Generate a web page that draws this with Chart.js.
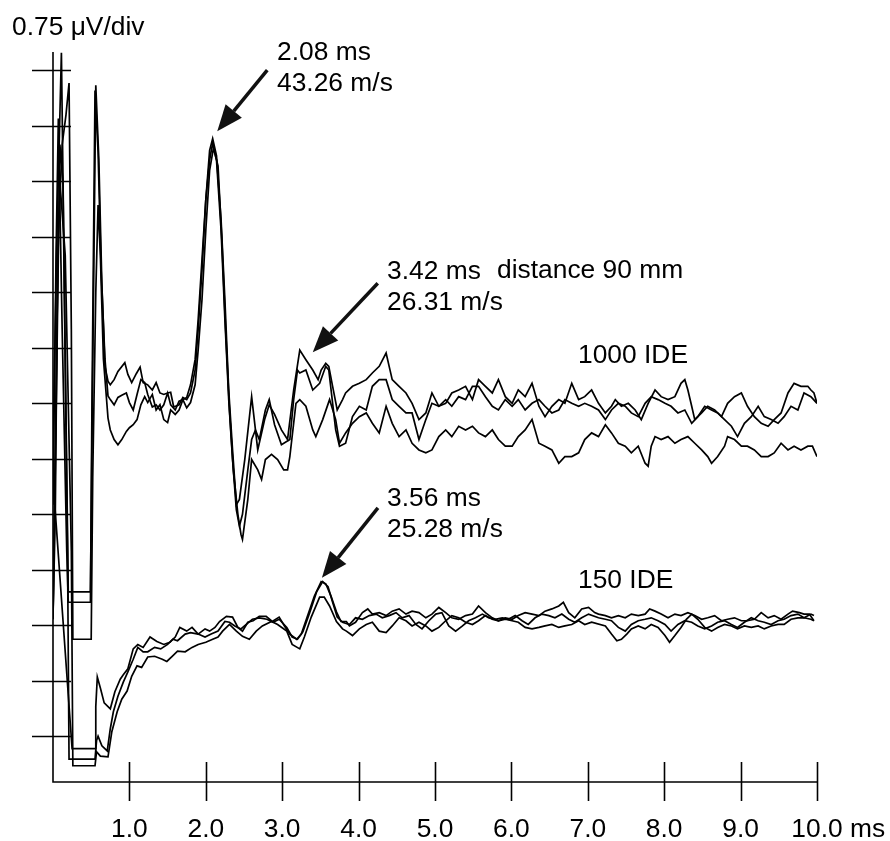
<!DOCTYPE html>
<html>
<head>
<meta charset="utf-8">
<title>Compound action potentials</title>
<script src="https://cdn.jsdelivr.net/npm/chart.js@4.4.1/dist/chart.umd.min.js"></script>
<style>
  html, body { margin: 0; padding: 0; background: #fff; }
  #wrap { width: 890px; height: 841px; }
</style>
</head>
<body>
<div id="wrap"><canvas id="cap" width="890" height="841"></canvas></div>
<script>
// time in ms, amplitude in µV (0.75 µV per division)
const xTicks = [1, 2, 3, 4, 5, 6, 7, 8, 9, 10];
const xTickLabels = ["1.0", "2.0", "3.0", "4.0", "5.0", "6.0", "7.0", "8.0", "9.0", "10.0"];
const xUnit = "ms";
const yTicks = [-1.5, -0.75, 0, 0.75, 1.5, 2.25, 3, 3.75, 4.5, 5.25, 6, 6.75, 7.5];
const yUnitLabel = "0.75 \u03BCV/div";

// 1000 IDE sweeps
const ide1000a = [
  [0.00,2.30],[0.05,5.20],[0.11,7.74],[0.15,4.50],[0.20,0.45],[0.49,0.45],[0.51,2.50],[0.56,7.30],[0.60,6.30],[0.64,4.60],[0.68,3.50],[0.72,3.30],
  [0.75,3.25],[0.80,3.32],[0.85,3.43],[0.94,3.55],[0.98,3.39],[1.03,3.28],[1.09,3.40],[1.14,3.49],[1.18,3.28],[1.24,3.25],[1.30,3.18],[1.35,3.28],
  [1.40,3.14],[1.45,3.12],[1.50,3.14],[1.54,3.15],[1.58,2.95],[1.65,2.98],[1.70,3.08],[1.75,3.05],[1.80,3.14],[1.86,3.45],[1.90,4.00],[1.95,4.80],
  [2.00,5.75],[2.05,6.42],[2.09,6.58],[2.14,6.35],[2.20,5.48],[2.25,4.40],[2.30,3.18],[2.35,2.37],[2.40,1.63],[2.44,1.70],[2.51,2.24],[2.60,3.09],
  [2.68,2.37],[2.77,2.78],[2.83,2.98],[2.90,2.85],[2.99,2.64],[3.07,2.51],[3.15,3.18],[3.23,3.72],[3.31,3.59],[3.40,3.45],[3.47,3.32],[3.51,3.45],
  [3.57,3.54],[3.61,3.50],[3.66,3.23],[3.72,2.91],[3.79,3.05],[3.83,3.14],[3.92,3.23],[4.01,3.27],[4.10,3.32],[4.18,3.41],[4.27,3.50],[4.36,3.68],
  [4.40,3.50],[4.44,3.32],[4.53,3.23],[4.62,3.14],[4.70,3.00],[4.79,2.78],[4.88,2.87],[4.96,3.14],[5.05,2.96],[5.14,3.00],[5.22,3.14],[5.31,3.18],
  [5.40,3.23],[5.49,3.05],[5.57,3.32],[5.66,3.23],[5.75,3.14],[5.83,3.32],[5.92,3.09],[6.01,3.00],[6.09,3.18],[6.18,3.09],[6.27,3.27],[6.36,2.96],
  [6.44,2.82],[6.53,2.96],[6.62,3.05],[6.70,3.00],[6.79,3.27],[6.88,3.05],[6.96,3.09],[7.05,3.18],[7.14,3.00],[7.23,2.87],[7.31,2.96],[7.36,3.05],
  [7.44,2.96],[7.53,3.00],[7.62,2.91],[7.70,2.78],[7.79,3.00],[7.88,3.18],[7.96,3.09],[8.05,3.05],[8.14,3.09],[8.22,3.27],[8.27,3.32],[8.31,3.18],
  [8.36,2.96],[8.40,2.78],[8.49,2.87],[8.57,2.96],[8.66,2.91],[8.75,2.82],[8.83,3.00],[8.92,3.09],[9.01,3.14],[9.09,2.96],[9.18,2.82],[9.27,2.73],
  [9.36,2.69],[9.44,2.78],[9.53,2.87],[9.62,3.14],[9.70,3.27],[9.79,3.23],[9.88,3.23],[9.92,3.18],[9.96,3.14],[10.0,3.00]
];
const ide1000b = [
  [0.00,1.63],[0.04,5.00],[0.07,6.85],[0.12,4.00],[0.18,1.00],[0.20,0.31],[0.49,0.31],[0.51,3.00],[0.55,7.23],[0.59,6.40],[0.63,4.80],[0.68,3.60],[0.72,3.10],
  [0.75,3.05],[0.80,2.98],[0.85,3.08],[0.90,3.11],[0.96,3.14],[1.00,3.01],[1.05,2.91],[1.10,3.12],[1.15,3.32],[1.20,3.28],[1.24,3.12],[1.30,2.95],
  [1.35,2.98],[1.40,2.91],[1.45,2.98],[1.50,3.14],[1.54,2.98],[1.60,2.91],[1.65,3.03],[1.70,3.05],[1.75,3.08],[1.80,3.25],[1.86,3.59],[1.90,4.13],
  [1.95,4.94],[2.00,5.75],[2.05,6.29],[2.09,6.52],[2.14,6.29],[2.20,5.34],[2.25,4.13],[2.30,3.05],[2.35,2.24],[2.40,1.56],[2.44,1.34],[2.48,1.50],
  [2.55,2.10],[2.60,2.51],[2.65,2.64],[2.70,2.51],[2.78,2.91],[2.83,3.05],[2.90,2.71],[2.99,2.44],[3.10,2.51],[3.15,3.05],[3.20,3.45],[3.23,3.41],
  [3.31,3.45],[3.40,3.18],[3.49,3.27],[3.57,3.50],[3.61,3.45],[3.70,2.64],[3.75,2.42],[3.83,2.46],[3.92,2.82],[4.01,2.96],[4.10,2.91],[4.18,3.23],
  [4.27,3.32],[4.36,3.32],[4.44,3.05],[4.53,2.96],[4.62,2.87],[4.70,2.87],[4.79,2.51],[4.88,2.78],[4.96,3.00],[5.05,2.96],[5.14,3.05],[5.22,2.96],
  [5.31,3.09],[5.40,3.05],[5.49,3.23],[5.57,3.23],[5.66,3.09],[5.75,2.96],[5.83,2.91],[5.92,3.05],[6.01,2.96],[6.09,3.05],[6.18,2.91],[6.27,3.00],
  [6.36,3.05],[6.44,2.96],[6.53,2.87],[6.62,2.91],[6.70,3.05],[6.79,3.00],[6.88,2.96],[6.96,3.00],[7.05,2.96],[7.14,2.91],[7.23,2.78],[7.31,2.91],
  [7.40,3.00],[7.49,2.96],[7.57,2.87],[7.66,2.82],[7.75,3.00],[7.83,3.09],[7.92,3.05],[8.01,3.00],[8.09,2.96],[8.18,2.87],[8.27,2.91],[8.36,2.73],
  [8.44,2.82],[8.53,2.96],[8.62,2.91],[8.70,2.87],[8.79,2.78],[8.88,2.69],[8.96,2.55],[9.05,2.73],[9.14,2.82],[9.23,2.96],[9.31,2.82],[9.40,2.78],
  [9.49,2.73],[9.57,2.82],[9.66,2.96],[9.75,2.91],[9.83,3.14],[9.92,3.09],[10.0,3.00]
];
const ide1000c = [
  [0.00,0.08],[0.03,2.50],[0.07,5.30],[0.12,6.50],[0.17,6.90],[0.21,7.33],[0.24,4.00],[0.26,-0.19],[0.50,-0.19],[0.52,2.00],[0.56,4.50],[0.59,5.68],
  [0.62,5.00],[0.66,3.60],[0.72,2.80],[0.75,2.64],[0.80,2.51],[0.85,2.44],[0.90,2.51],[0.96,2.62],[1.00,2.67],[1.05,2.71],[1.10,2.78],[1.15,2.98],
  [1.20,3.09],[1.24,3.01],[1.30,3.12],[1.35,2.91],[1.40,2.98],[1.45,2.78],[1.50,2.74],[1.54,2.91],[1.60,2.85],[1.65,2.91],[1.70,3.05],[1.75,2.94],
  [1.80,3.01],[1.86,3.25],[1.90,3.72],[1.95,4.40],[2.00,5.34],[2.05,6.15],[2.10,6.45],[2.16,6.21],[2.21,5.21],[2.26,3.99],[2.31,2.91],[2.36,2.10],
  [2.42,1.50],[2.46,1.23],[2.48,1.16],[2.55,1.70],[2.60,2.24],[2.68,2.10],[2.73,1.97],[2.78,2.24],[2.86,2.31],[2.94,2.24],[3.02,2.10],[3.07,2.10],
  [3.10,2.28],[3.18,3.00],[3.23,3.05],[3.31,2.96],[3.40,2.64],[3.44,2.55],[3.53,2.78],[3.62,3.05],[3.70,2.78],[3.75,2.46],[3.83,2.60],[3.92,2.73],
  [4.01,2.82],[4.10,2.87],[4.18,2.73],[4.27,2.60],[4.36,2.96],[4.44,2.73],[4.53,2.55],[4.62,2.64],[4.70,2.46],[4.79,2.37],[4.88,2.33],[4.96,2.37],
  [5.05,2.55],[5.14,2.64],[5.22,2.55],[5.31,2.69],[5.40,2.64],[5.49,2.69],[5.57,2.60],[5.66,2.55],[5.75,2.64],[5.83,2.51],[5.92,2.42],[6.01,2.42],
  [6.09,2.55],[6.18,2.64],[6.27,2.78],[6.36,2.46],[6.44,2.42],[6.53,2.37],[6.62,2.19],[6.70,2.28],[6.79,2.28],[6.88,2.33],[6.96,2.51],[7.05,2.60],
  [7.14,2.55],[7.23,2.71],[7.31,2.60],[7.40,2.46],[7.49,2.42],[7.57,2.33],[7.66,2.42],[7.75,2.19],[7.79,2.15],[7.83,2.42],[7.88,2.55],[7.96,2.51],
  [8.05,2.55],[8.14,2.46],[8.22,2.51],[8.31,2.55],[8.40,2.46],[8.49,2.37],[8.57,2.28],[8.62,2.19],[8.70,2.28],[8.79,2.42],[8.83,2.55],[8.92,2.51],
  [9.01,2.42],[9.09,2.42],[9.18,2.37],[9.27,2.28],[9.36,2.28],[9.44,2.33],[9.53,2.46],[9.62,2.37],[9.70,2.42],[9.79,2.37],[9.88,2.42],[9.94,2.42],[10.0,2.28]
];

// 150 IDE sweeps
const ide150a = [
  [0.00,1.97],[0.25,-1.67],[0.55,-1.67],[0.56,-1.10],[0.58,-0.70],[0.62,-0.85],[0.67,-1.05],[0.75,-1.13],[0.81,-0.90],[0.88,-0.73],[0.92,-0.67],
  [0.98,-0.59],[1.05,-0.32],[1.11,-0.26],[1.18,-0.30],[1.27,-0.16],[1.36,-0.22],[1.45,-0.26],[1.53,-0.23],[1.60,-0.16],[1.66,-0.03],[1.75,-0.08],
  [1.82,-0.03],[1.90,-0.12],[1.99,-0.05],[2.05,-0.08],[2.12,-0.03],[2.18,0.05],[2.27,0.12],[2.35,0.11],[2.42,-0.03],[2.48,-0.08],[2.55,0.04],
  [2.62,0.06],[2.70,0.12],[2.79,0.12],[2.87,0.05],[2.96,0.11],[3.03,-0.01],[3.10,-0.12],[3.19,-0.19],[3.25,-0.12],[3.33,0.12],[3.42,0.39],
  [3.51,0.59],[3.57,0.56],[3.64,0.39],[3.71,0.18],[3.77,0.05],[3.84,0.05],[3.88,-0.01],[3.96,0.04],[4.05,0.17],[4.12,0.22],[4.18,0.15],[4.27,0.17],
  [4.36,0.13],[4.44,0.19],[4.53,0.22],[4.62,0.15],[4.70,0.19],[4.79,0.17],[4.88,0.10],[4.96,0.15],[5.05,0.24],[5.14,0.17],[5.22,0.10],[5.31,0.08],
  [5.40,0.13],[5.49,0.15],[5.57,0.26],[5.66,0.17],[5.75,0.10],[5.83,0.06],[5.92,0.10],[6.01,0.08],[6.09,0.13],[6.18,0.17],[6.27,0.15],[6.36,0.13],
  [6.44,0.19],[6.53,0.22],[6.62,0.26],[6.68,0.31],[6.75,0.17],[6.83,0.10],[6.92,0.22],[7.01,0.24],[7.09,0.17],[7.14,0.15],[7.23,0.13],[7.31,0.10],
  [7.40,0.13],[7.49,0.10],[7.57,0.15],[7.66,0.13],[7.75,0.15],[7.81,0.22],[7.88,0.19],[7.96,0.15],[8.05,0.10],[8.14,0.15],[8.22,0.13],[8.31,0.17],
  [8.40,0.13],[8.49,0.08],[8.57,0.10],[8.66,0.13],[8.75,0.06],[8.83,0.08],[8.92,0.10],[9.01,0.06],[9.09,0.06],[9.18,0.08],[9.27,0.17],[9.36,0.10],
  [9.44,0.13],[9.53,0.08],[9.62,0.15],[9.68,0.19],[9.77,0.17],[9.83,0.15],[9.90,0.15],[9.96,0.06]
];
const ide150b = [
  [0.00,0.08],[0.05,3.50],[0.09,6.50],[0.13,6.00],[0.19,1.00],[0.21,-1.81],[0.55,-1.81],[0.57,-1.56],[0.59,-1.50],[0.64,-1.63],[0.71,-1.70],
  [0.75,-1.40],[0.79,-1.17],[0.85,-0.96],[0.92,-0.77],[0.98,-0.63],[1.05,-0.46],[1.11,-0.30],[1.18,-0.36],[1.24,-0.36],[1.33,-0.30],[1.41,-0.32],
  [1.50,-0.26],[1.57,-0.19],[1.63,-0.21],[1.73,-0.12],[1.80,-0.10],[1.90,-0.12],[1.99,-0.16],[2.07,-0.12],[2.16,-0.08],[2.25,0.05],[2.31,0.04],
  [2.38,-0.01],[2.46,-0.05],[2.53,0.01],[2.61,0.08],[2.70,0.10],[2.80,0.08],[2.88,0.04],[2.96,0.08],[3.06,-0.03],[3.13,-0.16],[3.20,-0.19],
  [3.27,-0.09],[3.36,0.17],[3.45,0.45],[3.53,0.59],[3.60,0.52],[3.66,0.31],[3.72,0.11],[3.79,0.04],[3.88,0.01],[3.96,0.10],[4.05,0.08],[4.14,0.13],
  [4.23,0.15],[4.31,0.10],[4.40,0.13],[4.49,0.17],[4.57,0.10],[4.66,0.13],[4.75,0.01],[4.83,-0.05],[4.92,0.06],[5.01,0.15],[5.09,0.17],[5.18,-0.01],
  [5.27,-0.08],[5.36,-0.01],[5.44,0.06],[5.53,0.10],[5.62,0.15],[5.70,0.10],[5.79,0.08],[5.88,0.10],[5.96,0.08],[6.05,0.13],[6.14,0.06],[6.22,0.01],
  [6.31,0.10],[6.40,0.15],[6.49,0.13],[6.57,0.10],[6.66,0.15],[6.75,0.08],[6.83,0.04],[6.92,0.10],[7.01,0.15],[7.14,0.10],[7.23,0.08],[7.31,0.06],
  [7.40,-0.03],[7.49,-0.08],[7.57,0.01],[7.66,0.06],[7.75,0.08],[7.83,0.10],[7.92,0.06],[8.01,0.01],[8.09,-0.08],[8.18,0.01],[8.27,0.06],[8.36,0.04],
  [8.44,-0.01],[8.53,-0.05],[8.62,-0.01],[8.70,0.04],[8.79,0.06],[8.88,0.01],[8.96,-0.03],[9.05,0.04],[9.14,0.10],[9.23,0.06],[9.31,0.04],[9.40,0.01],
  [9.49,0.06],[9.57,0.08],[9.66,0.13],[9.75,0.15],[9.83,0.10],[9.92,0.08],[9.96,0.06]
];
const ide150c = [
  [0.00,0.12],[0.03,1.50],[0.06,4.80],[0.09,6.00],[0.16,5.00],[0.24,1.00],[0.26,-1.90],[0.55,-1.90],[0.57,-1.71],[0.62,-1.77],[0.72,-1.78],
  [0.77,-1.44],[0.84,-1.17],[0.90,-1.00],[0.97,-0.89],[1.03,-0.69],[1.10,-0.55],[1.16,-0.57],[1.24,-0.43],[1.33,-0.42],[1.43,-0.46],[1.49,-0.49],
  [1.56,-0.42],[1.63,-0.35],[1.73,-0.36],[1.82,-0.30],[1.90,-0.26],[2.00,-0.23],[2.09,-0.19],[2.16,-0.16],[2.22,-0.08],[2.31,0.01],[2.40,-0.08],
  [2.48,-0.15],[2.57,-0.19],[2.66,-0.08],[2.74,-0.01],[2.86,0.05],[2.94,0.01],[3.06,-0.08],[3.13,-0.26],[3.23,-0.32],[3.29,-0.16],[3.38,0.11],
  [3.49,0.38],[3.55,0.38],[3.62,0.26],[3.71,0.05],[3.79,-0.05],[3.84,-0.08],[3.92,-0.14],[4.01,-0.05],[4.10,0.01],[4.18,0.04],[4.27,-0.08],
  [4.36,-0.10],[4.44,-0.01],[4.53,0.10],[4.62,0.06],[4.70,-0.01],[4.79,0.04],[4.88,-0.01],[4.96,-0.08],[5.05,-0.03],[5.14,0.06],[5.22,0.13],
  [5.31,0.10],[5.40,0.04],[5.49,0.01],[5.57,0.06],[5.66,0.13],[5.75,0.08],[5.83,0.06],[5.92,0.08],[6.01,0.06],[6.09,0.04],[6.18,-0.03],[6.27,-0.05],
  [6.36,-0.03],[6.44,-0.01],[6.53,0.01],[6.62,-0.03],[6.70,-0.01],[6.79,0.01],[6.88,0.06],[6.96,0.01],[7.05,0.04],[7.23,-0.01],[7.31,-0.12],
  [7.38,-0.21],[7.44,-0.19],[7.51,-0.12],[7.57,-0.05],[7.66,-0.01],[7.75,-0.05],[7.83,0.01],[7.92,-0.03],[8.01,-0.14],[8.07,-0.23],[8.14,-0.14],
  [8.22,-0.03],[8.29,0.08],[8.36,0.15],[8.44,0.08],[8.53,-0.03],[8.62,-0.08],[8.70,-0.03],[8.79,0.01],[8.88,-0.01],[8.96,-0.05],[9.05,-0.01],
  [9.14,-0.03],[9.23,-0.01],[9.31,-0.05],[9.40,-0.01],[9.49,0.01],[9.57,0.01],[9.66,0.08],[9.75,0.10],[9.83,0.10],[9.92,0.15],[9.96,0.13]
];

const sweeps = [ide1000a, ide1000b, ide1000c, ide150a, ide150b, ide150c];

// arrows: tip in data units, tail offset in px
const arrows = [
  { tip: [2.15, 6.68], dx: 50, dy: -61 },
  { tip: [3.40, 3.69], dx: 65, dy: -69 },
  { tip: [3.52, 0.64], dx: 56, dy: -70 }
];
// free text, left edge and baseline in px
const notes = [
  { text: yUnitLabel, x: 12, y: 35 },
  { text: "2.08 ms", x: 277, y: 60 },
  { text: "43.26 m/s", x: 277, y: 91 },
  { text: "3.42 ms", x: 387, y: 279 },
  { text: "26.31 m/s", x: 387, y: 310 },
  { text: "distance 90 mm", x: 497, y: 278 },
  { text: "1000 IDE", x: 578, y: 363 },
  { text: "3.56 ms", x: 387, y: 506 },
  { text: "25.28 m/s", x: 387, y: 537 },
  { text: "150 IDE", x: 578, y: 588 }
];

const FONT = '25px "Liberation Sans", Arial, sans-serif';
const STRETCH = 1.055;

// text is a touch wider than the plain font
function wideText(ctx, str, x, y) {
  ctx.save();
  ctx.translate(x, y);
  ctx.scale(STRETCH, 1);
  ctx.fillText(str, 0, 0);
  ctx.restore();
}

const scopeFrame = {
  id: "scopeFrame",
  afterDatasetsDraw(chart) {
    const { ctx } = chart;
    const x = chart.scales.x;
    const y = chart.scales.y;
    const x0 = x.getPixelForValue(0);
    const yb = y.bottom;
    ctx.save();
    ctx.strokeStyle = "#000";
    ctx.fillStyle = "#000";
    ctx.lineWidth = 1.6;

    ctx.beginPath();
    ctx.moveTo(x0, y.top);
    ctx.lineTo(x0, yb);
    ctx.lineTo(x.getPixelForValue(10), yb);
    // y ticks cross the axis
    yTicks.forEach((v) => {
      const py = Math.round(y.getPixelForValue(v)) + 0.5;
      ctx.moveTo(x0 - 21, py);
      ctx.lineTo(x0 + 18, py);
    });
    // x ticks cross the axis too
    xTicks.forEach((t) => {
      const px = Math.round(x.getPixelForValue(t)) + 0.5;
      ctx.moveTo(px, yb - 20);
      ctx.lineTo(px, yb + 19);
    });
    ctx.stroke();

    ctx.font = FONT;
    ctx.textAlign = "left";
    ctx.textBaseline = "alphabetic";
    xTicks.forEach((t, i) => {
      const px = x.getPixelForValue(t);
      const label = xTickLabels[i];
      const w = ctx.measureText(label).width * STRETCH;
      wideText(ctx, i === xTicks.length - 1 ? label + " " + xUnit : label, px - w / 2, 837);
    });

    notes.forEach((n) => wideText(ctx, n.text, n.x, n.y));

    // callout arrows
    ctx.lineWidth = 3.5;
    ctx.fillStyle = "#111";
    ctx.strokeStyle = "#111";
    arrows.forEach((a) => {
      const tx = x.getPixelForValue(a.tip[0]);
      const ty = y.getPixelForValue(a.tip[1]);
      const sx = tx + a.dx;
      const sy = ty + a.dy;
      const ang = Math.atan2(ty - sy, tx - sx);
      const head = 26;
      const half = 10.5;
      const bx = tx - head * Math.cos(ang);
      const by = ty - head * Math.sin(ang);
      ctx.beginPath();
      ctx.moveTo(sx, sy);
      ctx.lineTo(bx, by);
      ctx.stroke();
      ctx.beginPath();
      ctx.moveTo(tx, ty);
      ctx.lineTo(bx + half * Math.sin(ang), by - half * Math.cos(ang));
      ctx.lineTo(bx - half * Math.sin(ang), by + half * Math.cos(ang));
      ctx.closePath();
      ctx.fill();
    });
    ctx.restore();
  }
};

new Chart(document.getElementById("cap"), {
  type: "scatter",
  data: {
    datasets: sweeps.map((pts) => ({
      data: pts.map(([t, v]) => ({ x: t, y: v })),
      showLine: true,
      borderColor: "#000",
      borderWidth: 1.7,
      pointRadius: 0,
      fill: false,
      tension: 0
    }))
  },
  options: {
    responsive: false,
    animation: false,
    layout: { padding: { left: 53, right: 73, top: 52, bottom: 59 } },
    plugins: { legend: { display: false }, tooltip: { enabled: false } },
    scales: {
      x: { type: "linear", min: 0, max: 10, display: false },
      y: { type: "linear", min: -2.12, max: 7.75, display: false }
    }
  },
  plugins: [scopeFrame]
});
</script>
</body>
</html>
